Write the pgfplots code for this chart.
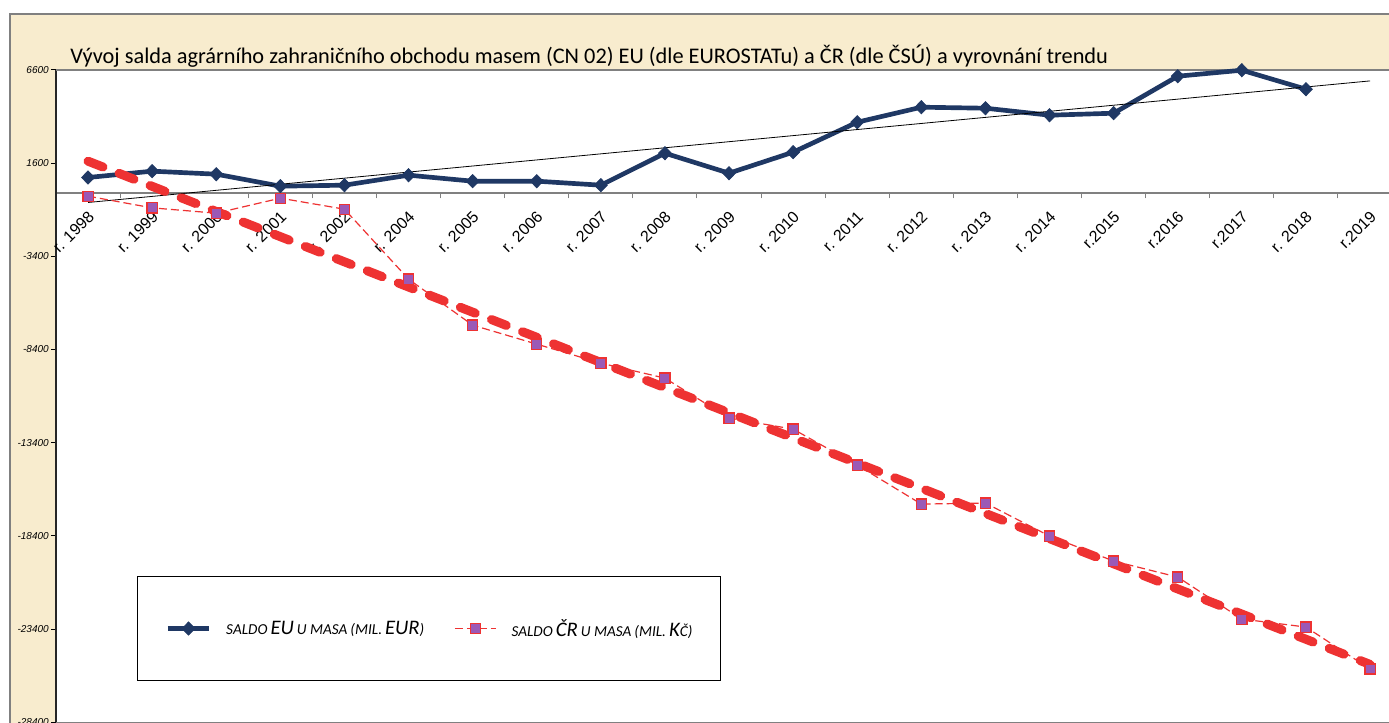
\documentclass[border=0pt]{standalone}
\usepackage{fontspec}
\setmainfont{Carlito}
\newfontfamily\arialfont{Liberation Sans}
\usepackage{pgfplots}
\pgfplotsset{compat=1.18}
\definecolor{beige}{RGB}{248,236,206}
\definecolor{navy}{RGB}{31,56,100}
\definecolor{tred}{RGB}{238,50,50}
\definecolor{purp}{RGB}{155,89,182}
\newcommand{\smc}[1]{{\fontsize{11.4}{12}\selectfont #1}}
\newcommand{\bgc}[1]{{\fontsize{15.5}{16}\selectfont #1}}

\pgfplotstableread{
x y
0 831
1 1170
2 1009
3 365
4 418
5 955
6 633
7 633
8 418
9 2135
10 1062
11 2189
12 3798
13 4603
14 4549
15 4174
16 4281
17 6266
18 6588
19 5569
}\eudata

\pgfplotstableread{
x y
0 -172
1 -799
2 -1083
3 -279
4 -869
5 -4624
6 -7092
7 -8112
8 -9131
9 -9936
10 -12082
11 -12672
12 -14603
13 -16695
14 -16642
15 -18412
16 -19753
17 -20612
18 -22865
19 -23294
20 -25547
}\crdata

\begin{document}
\begin{tikzpicture}
\useasboundingbox (0,0) rectangle (1041.75pt,542.25pt);
\fill[beige] (7.5pt,0) rectangle (1041.75pt,531.75pt);
\draw[gray, line width=0.9pt] (7.5pt,0) -- (7.5pt,531.75pt) -- (1041.75pt,531.75pt);
\node[anchor=base west, font=\fontsize{16.75}{18}\selectfont, inner sep=0pt] at (52.5pt,494.5pt)
  {Vývoj salda agrárního zahraničního obchodu masem (CN 02) EU (dle EUROSTATu) a ČR (dle ČSÚ) a vyrovnání trendu};
\begin{axis}[
  at={(42pt,0.6pt)}, anchor=south west,
  scale only axis, width=999.75pt, height=489.15pt,
  xmin=-0.5, xmax=20.296, ymin=-28400, ymax=6600,
  clip=false,
  axis background/.style={fill=white},
  axis x line=middle, axis y line=left,
  x axis line style={-, gray, line width=1pt},
  y axis line style={-, black!85, line width=1.2pt},
  xtick={0,...,20},
  major x tick style={draw=none},
  minor xtick={-0.5,0.5,...,20.5},
  minor x tick style={gray, line width=0.75pt},
  minor tick length=4pt,
  xtick align=outside,
  xticklabels={r. 1998, r. 1999, r. 2000, r. 2001, r. 2002, r. 2004, r. 2005, r. 2006, r. 2007, r. 2008, r. 2009, r. 2010, r. 2011, r. 2012, r. 2013, r. 2014, r.2015, r.2016, r.2017, r. 2018, r.2019},
  xticklabel style={xshift=2.5pt, yshift=-12pt, rotate=45, anchor=east, inner sep=0pt, font=\arialfont\fontsize{12}{13}\selectfont},
  ytick={-28400,-23400,-18400,-13400,-8400,-3400,1600,6600},
  scaled y ticks=false,
  ytick align=outside,
  major y tick style={black, line width=0.75pt},
  major tick length=3.75pt,
  yticklabel style={font=\arialfont\itshape\fontsize{7.5}{8}\selectfont, inner sep=1.5pt},
  /pgf/number format/.cd, set thousands separator={}, assume math mode=true,
  /pgfplots/.cd,
  legend image code/.code={\draw[mark repeat=2,mark phase=2,#1] plot coordinates {(0pt,0pt) (15.5pt,0pt) (31pt,0pt)};},
  legend style={at={(0.0608,0.0629)}, anchor=south west, draw=black, line width=0.75pt, fill=white,
    legend columns=2, inner xsep=21pt, inner ysep=32pt, font=\itshape,
    nodes={inner sep=0pt},
    /tikz/every odd column/.append style={column sep=11pt},
    /tikz/every even column/.append style={column sep=22.5pt}},
]
\draw[gray, line width=0.9pt] (rel axis cs:0,1) -- (rel axis cs:1,1);
\draw[gray, line width=0.9pt] (rel axis cs:0,0) -- (rel axis cs:1,0);
\addplot[navy, line width=3.5pt, mark=diamond*, mark size=5pt, mark options={solid, xscale=1.3, fill=navy, line width=0.5pt}] table[x=x,y=y] {\eudata};
\addlegendentry{\smc{SALDO} \bgc{EU} \smc{U MASA} \smc{(MIL.} \bgc{EUR}\smc{)}}
\addplot[black, line width=0.6pt, forget plot] coordinates {(0,-510) (20,6014)};
\addplot[tred, line width=6.75pt, line cap=round, dash pattern=on 12pt off 13pt, forget plot] coordinates {(0,1706) (20,-25300)};
\addplot[tred, line width=0.9pt, dash pattern=on 6pt off 3pt, mark=square*, mark size=3.8pt, mark options={solid, fill=purp, draw=tred, line width=0.9pt}] table[x=x,y=y] {\crdata};
\addlegendentry{\smc{SALDO} \bgc{ČR} \smc{U MASA} \smc{(MIL.} \bgc{K}\smc{Č}\smc{)}}
\end{axis}
\end{tikzpicture}
\end{document}
